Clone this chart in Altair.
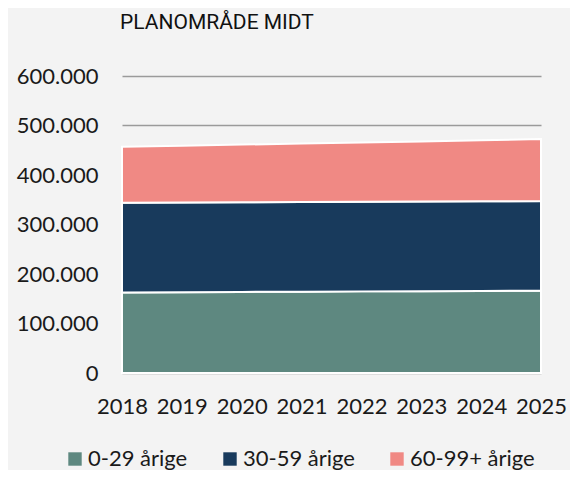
import altair as alt
import pandas as pd

years = [2018, 2019, 2020, 2021, 2022, 2023, 2024, 2025]
series = ["0-29 årige", "30-59 årige", "60-99+ årige"]
young = [162500, 163200, 163800, 164300, 164900, 165400, 165900, 166400]
middle = [181500, 181300, 181200, 181100, 181000, 181000, 181000, 181000]
old = [113000, 114800, 116400, 118000, 119700, 121400, 123200, 125200]
colors = ["#5e8880", "#183a5c", "#f08984"]
y_ticks = [0, 100000, 200000, 300000, 400000, 500000, 600000]

rows = []
for i, yr in enumerate(years):
    for k, (name, vals) in enumerate(zip(series, [young, middle, old])):
        rows.append({"year": yr, "group": name, "value": vals[i], "ord": k})
df = pd.DataFrame(rows)

chart = alt.Chart(df).mark_area(stroke="white", strokeWidth=2).encode(
    x=alt.X("year:Q", scale=alt.Scale(domain=[2018, 2025], nice=False, zero=False),
            axis=alt.Axis(values=years, format="d", title=None, domain=False, ticks=False,
                          grid=False, labelPadding=23, labelFontSize=22, labelColor="#1a1a1a",
                          labelFont="Lato", labelFlush=False)),
    y=alt.Y("value:Q", stack="zero", scale=alt.Scale(domain=[0, 600000], nice=False),
            axis=alt.Axis(values=y_ticks, title=None, domain=False, ticks=False,
                          grid=True, gridColor="#9a9a9a", gridWidth=1.5,
                          labelPadding=24, labelFontSize=22, labelColor="#1a1a1a", labelFont="Lato",
                          labelExpr="replace(format(datum.value, ',.0f'), ',', '.')")),
    color=alt.Color("group:N", scale=alt.Scale(domain=series, range=colors),
                    legend=alt.Legend(title=None, orient="none", legendX=-58, legendY=372,
                                      direction="horizontal", symbolType="square", symbolSize=180,
                                      symbolStrokeWidth=0, labelFontSize=22, labelFont="Lato",
                                      labelColor="#1a1a1a", columnPadding=31, labelOffset=2)),
    order=alt.Order("ord:Q", sort="ascending"),
).properties(
    width=419, height=297,
    background="#f3f3f3",
    padding={"left": 114, "top": 68, "right": 29, "bottom": 97},
    autosize=alt.AutoSizeParams(type="none"),
    title=alt.TitleParams("PLANOMRÅDE MIDT", anchor="start", frame="group", font="Roboto",
                          fontSize=21, fontWeight="normal", color="#111111", offset=32, dx=-2),
).configure_view(stroke=None)

chart.save("out.html", embed_options={"renderer": "svg", "actions": False})
